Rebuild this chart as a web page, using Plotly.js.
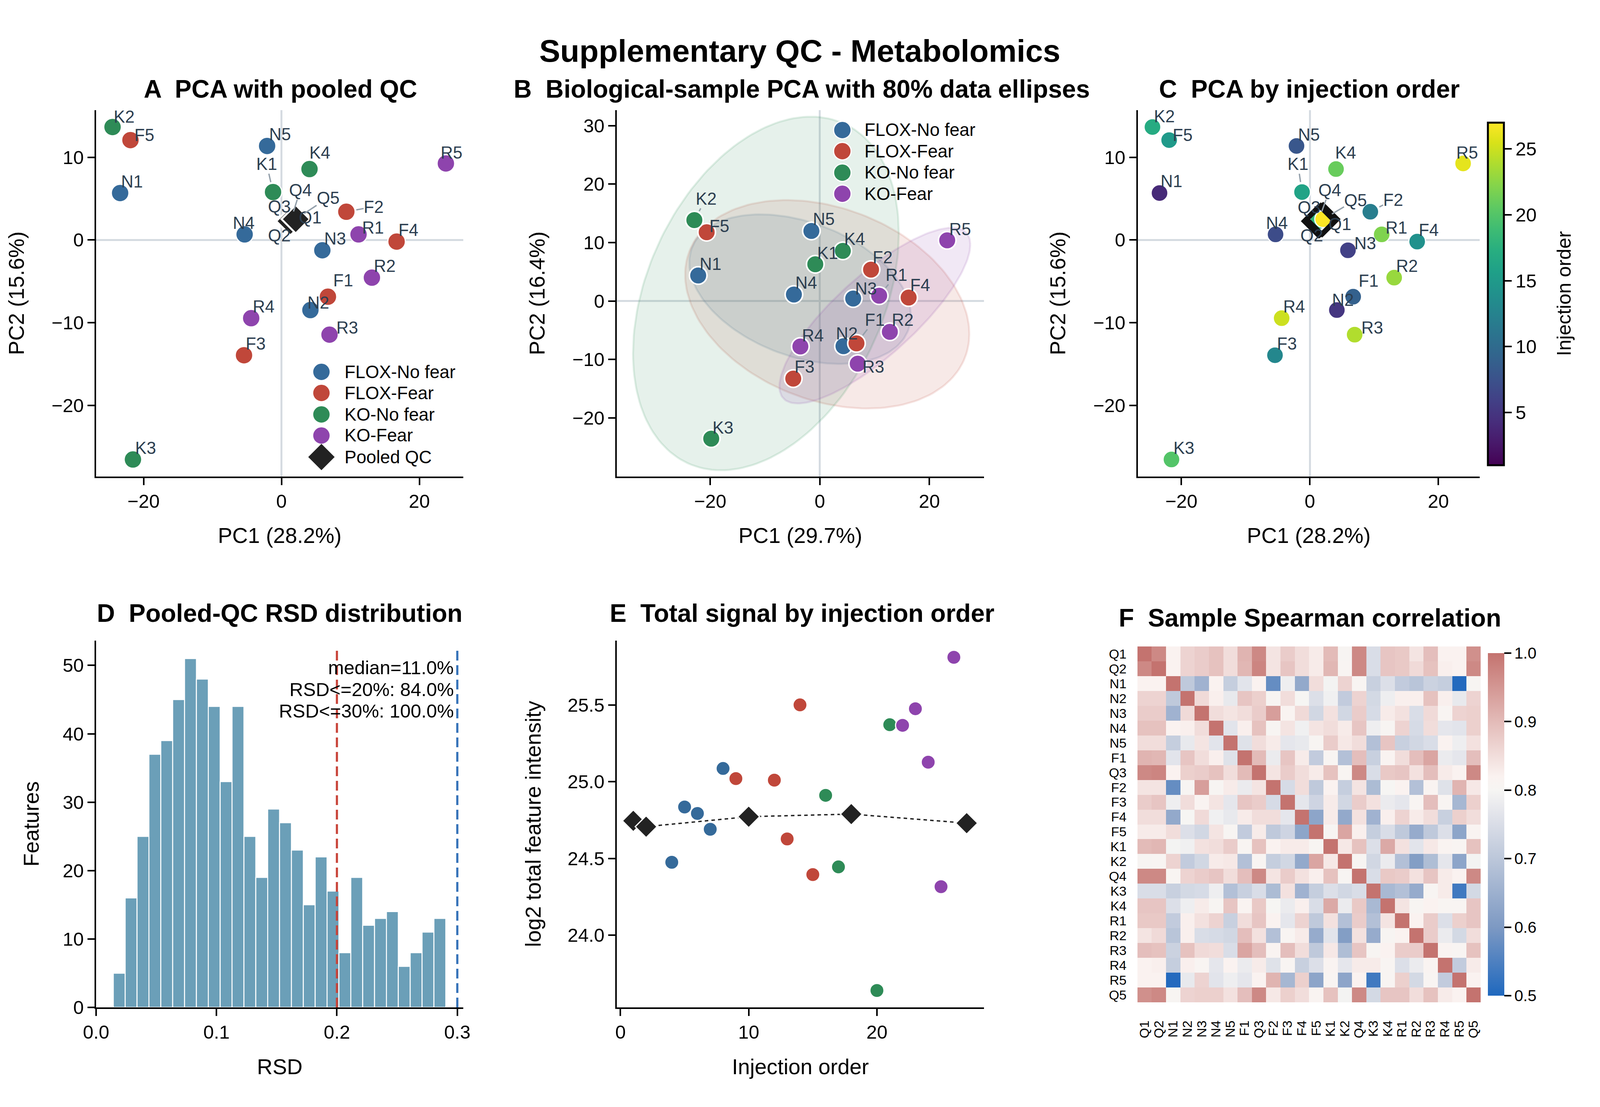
<!DOCTYPE html>
<html><head><meta charset="utf-8">
<script src="https://cdn.plot.ly/plotly-3.0.1.min.js"></script>
<style>html,body{margin:0;padding:0;background:#fff;overflow:hidden}#chart{height:2834px}</style>
</head><body><div id="chart"></div>
<script>
// ---------- DATA ----------
const sampleLabels = ['N1','N2','N3','N4','N5','F1','F2','F3','F4','F5','K1','K2','K3','K4','R1','R2','R3','R4','R5'];
const pc1All = [-23.4,4.2,5.93,-5.34,-2.08,6.74,9.41,-5.43,16.7,-21.9,-1.22,-24.5,-21.54,4.07,11.18,13.12,6.97,-4.39,23.85];
const pc2All = [5.68,-8.47,-1.24,0.68,11.37,-6.85,3.42,-13.93,-0.19,12.08,5.8,13.66,-26.53,8.58,0.68,-4.55,-11.44,-9.45,9.26];
const pc1Bio = [-22.2,4.32,6.09,-4.73,-1.54,6.69,9.35,-4.85,16.21,-20.65,-0.83,-22.9,-19.82,4.2,10.83,12.78,6.92,-3.55,23.25];
const pc2Bio = [4.37,-7.73,0.43,1.12,11.99,-7.25,5.38,-13.27,0.59,11.77,6.29,13.85,-23.55,8.58,0.91,-5.27,-10.71,-7.78,10.39];
const injectionOrder = [4,5,6,7,8,9,12,13,14,15,16,17,20,21,22,23,24,25,26];
const totalSignal = [24.475,24.835,24.793,24.69,25.086,25.02,25.01,24.627,25.5,24.395,24.911,24.445,23.64,25.371,25.367,25.475,25.127,24.316,25.81];
const qcLabels = ['Q1','Q2','Q3','Q4','Q5'];
const qcPc1 = [1.9,1.5,1.7,1.31,2.07];
const qcPc2 = [2.4,2.3,2.45,2.28,2.52];
const qcOrder = [1,2,10,18,27];
const qcSignal = [24.745,24.707,24.772,24.789,24.73];
const groupNames = ['FLOX-No fear','FLOX-Fear','KO-No fear','KO-Fear'];
const groupPrefixes = ['N','F','K','R'];
const groupColors = ['#356A9A','#C0473A','#2E8B57','#8E44AD'];
const rsdBinStart = 0.01426;
const rsdBinWidth = 0.009864;
const rsdCounts = [5,16,25,37,39,45,51,48,44,33,44,25,19,29,27,23,15,22,17,8,19,12,13,14,6,8,11,13];
const rsdNotes = ['median=11.0%','RSD&lt;=20%: 84.0%','RSD&lt;=30%: 100.0%'];
const corrLabels = ['Q1','Q2','N1','N2','N3','N4','N5','F1','Q3','F2','F3','F4','F5','K1','K2','Q4','K3','K4','R1','R2','R3','R4','R5','Q5'];
const corrUpper = [
[1,.97,.82,.865,.875,.89,.85,.91,.97,.84,.875,.85,.83,.90,.805,.97,.75,.885,.88,.84,.895,.82,.82,.96],
[1,.82,.865,.875,.89,.85,.905,.975,.84,.885,.85,.83,.905,.81,.97,.75,.885,.88,.855,.89,.825,.82,.97],
[1,.705,.655,.82,.715,.765,.82,.575,.785,.635,.85,.795,.865,.81,.72,.755,.71,.695,.725,.715,.505,.805],
[1,.855,.825,.775,.885,.87,.805,.85,.80,.755,.79,.71,.865,.74,.785,.825,.825,.89,.825,.775,.865],
[1,.85,.84,.85,.875,.94,.815,.855,.735,.845,.735,.875,.745,.83,.845,.75,.855,.81,.865,.87],
[1,.765,.825,.89,.805,.84,.79,.84,.85,.83,.885,.785,.805,.865,.745,.85,.77,.765,.87],
[1,.76,.85,.83,.77,.775,.805,.875,.835,.85,.685,.885,.72,.735,.75,.82,.785,.845],
[1,.90,.78,.885,.83,.71,.81,.685,.895,.72,.815,.85,.895,.93,.78,.77,.895],
[1,.84,.875,.85,.83,.89,.81,.97,.75,.88,.885,.845,.895,.83,.82,.97],
[1,.745,.85,.705,.82,.715,.84,.675,.80,.82,.685,.815,.76,.91,.835],
[1,.77,.73,.83,.735,.875,.845,.78,.77,.81,.895,.81,.665,.87],
[1,.625,.83,.635,.845,.655,.825,.865,.83,.85,.72,.87,.85],
[1,.805,.93,.825,.715,.75,.705,.64,.705,.755,.625,.815],
[1,.835,.89,.755,.925,.845,.765,.835,.815,.81,.89],
[1,.805,.735,.78,.685,.61,.68,.77,.625,.795],
[1,.75,.88,.875,.845,.885,.83,.82,.97],
[1,.67,.685,.64,.805,.83,.535,.74],
[1,.84,.805,.82,.81,.81,.885],
[1,.82,.875,.755,.87,.885],
[1,.875,.78,.74,.85],
[1,.815,.81,.89],
[1,.71,.83],
[1,.82],
[1]];
const corrColorscale = [[0,'#1F68BE'],[0.2,'#7D99C3'],[0.4,'#BCC7DA'],[0.54,'#E5E6EC'],[0.6,'#F6F5F3'],[0.64,'#FAF2F0'],[0.8,'#E3BBB8'],[1,'#C4736F']];

// ---------- LABEL OFFSETS (reference pixels from point to label centre) ----------
const labelOffsetA = {K2:[31,-27],F5:[37,-13],N5:[34,-30],K4:[27,-42],R5:[15,-28],N1:[32,-30],K1:[-17,-72],F2:[73,-13],N4:[-2,-30],R1:[39,-18],F4:[31,-30],N3:[34,-30],R2:[34,-30],F1:[41,-42],N2:[21,-19],R4:[33,-30],R3:[47,-18],F3:[31,-30],K3:[33,-30],Q1:[41,-7],Q2:[-33,37],Q3:[-37,-34],Q4:[26,-80],Q5:[86,-55]};
const labelOffsetB = {K2:[31,-55],F5:[34,-16],N5:[33,-31],K4:[31,-31],K1:[33,-29],N1:[33,-30],F2:[31,-32],R5:[34,-29],N4:[33,-30],N3:[34,-26],R1:[46,-54],F4:[31,-32],R2:[34,-31],F1:[49,-61],N2:[9,-33],R4:[33,-29],R3:[42,8],F3:[30,-31],K3:[31,-29]};
const labelOffsetC = {K2:[31,-28],F5:[36,-13],N5:[33,-29],K4:[25,-42],R5:[11,-28],N1:[32,-31],K1:[-11,-72],F2:[61,-31],N4:[4,-30],R1:[39,-18],F4:[31,-30],N3:[46,-18],R2:[34,-30],F1:[41,-41],N2:[16,-26],R4:[33,-30],R3:[47,-18],F3:[32,-30],K3:[33,-30],Q1:[47,10],Q2:[-21,37],Q3:[-31,-32],Q4:[30,-80],Q5:[86,-49]};
const leadersA = ['K1','F2','Q4','Q5'];
const leadersB = ['K2','R1','F1'];
const leadersC = ['K1','F2','Q4','Q5'];

// ---------- HELPERS ----------
// Positions below are in the reference's 4251-wide pixel frame. The chart is drawn
// at the real window width so nothing is clipped when the window is narrower.
const REF_W = 4251, H = 2834;
const plotW = Math.min(window.innerWidth || REF_W, REF_W);
const SX = plotW / REF_W;
const FS = 1 - (1 - SX) * 0.8;
document.getElementById('chart').style.width = plotW + 'px';
const FONT = '"Liberation Sans", Arial, sans-serif';
const TICK = 50*FS, AXT = 57*FS, LAB = 45*FS, LEG = 47*FS, PT = 66*FS, SPINE = 4;
const DARK = '#222222', SLATE = '#2C3E50', ZERO = '#D5DBE1', LEAD = '#94A0AB';

const panels = {
  A:{l:255.4,r:1231,t:282,b:1219.5, xr:[-26.88,26.38], yr:[-28.57,15.7]},
  B:{l:1639,r:2614,t:282,b:1219.5, xr:[-37.04,29.94], yr:[-30.0,32.66]},
  C:{l:3023,r:3931.5,t:282,b:1219.5, xr:[-26.78,26.44], yr:[-28.57,15.7]},
  D:{l:255.4,r:1231,t:1639.5,b:2579, xr:[0,0.305], yr:[0,53.65]},
  E:{l:1639,r:2614,t:1639.5,b:2579, xr:[-0.28,28.34], yr:[23.53,25.92]},
  F:{l:3022,r:3934,t:1655,b:2566}
};
const axisNo = {A:1,B:2,C:3,D:4,E:5,F:6};
function pxToData(p, px, py){
  return [p.xr[0] + (px-p.l)/(p.r-p.l)*(p.xr[1]-p.xr[0]),
          p.yr[0] + (p.b-py)/(p.b-p.t)*(p.yr[1]-p.yr[0])];
}
function groupIdx(prefix){ return sampleLabels.map((s,i)=>s[0]===prefix?i:-1).filter(i=>i>=0); }
function axes(key, xtitle, ytitle, extraX, extraY, ystand){
  const p = panels[key], n = axisNo[key];
  const base = {
    showgrid:false, showline:true, linecolor:'#000', linewidth:SPINE, ticks:'outside', ticklen:18, tickwidth:4, tickcolor:'#000',
    tickfont:{family:FONT,size:TICK,color:'#000'}, zeroline:false, fixedrange:true
  };
  layout['xaxis'+n] = Object.assign({}, base, {domain:[p.l/REF_W,p.r/REF_W], range:p.xr, anchor:'y'+n,
    title:{text:xtitle,font:{family:FONT,size:AXT,color:'#000'},standoff:44}}, extraX||{});
  layout['yaxis'+n] = Object.assign({}, base, {domain:[1-p.b/H,1-p.t/H], range:p.yr, anchor:'x'+n,
    title:{text:ytitle,font:{family:FONT,size:AXT,color:'#000'},standoff:ystand*SX}}, extraY||{});
}
const ZL = {zeroline:true, zerolinecolor:ZERO, zerolinewidth:5};
const PCX = Object.assign({tickvals:[-20,0,20]},ZL);
const PCY = Object.assign({tickvals:[-20,-10,0,10]},ZL);
function panelTitle(text, cx, cy){
  annotations.push({xref:'paper',yref:'paper',x:cx/REF_W,y:1-cy/H,xanchor:'center',yanchor:'middle',showarrow:false,
    text:'<b>'+text+'</b>',font:{family:FONT,size:PT,color:'#000'}});
}
function pointLabels(n, names, xs, ys, offsets, leaders){
  names.forEach((nm,i)=>{
    const lead = leaders.includes(nm), o = offsets[nm];
    annotations.push({xref:'x'+n,yref:'y'+n,x:xs[i],y:ys[i],ax:o[0]*SX,ay:o[1],text:nm,
      font:{family:FONT,size:LAB,color:SLATE},showarrow:true,arrowhead:0,
      arrowwidth:lead?3.5:0.1,arrowcolor:lead?LEAD:'rgba(0,0,0,0)',standoff:lead?26:0,borderpad:0});
  });
}
function legendBlock(key, names, colors, symbols, cx, txtx, rows){
  const p = panels[key], n = axisNo[key];
  names.forEach((nm,i)=>{
    const d = pxToData(p, cx, rows[i]);
    const dia = symbols[i]==='diamond';
    traces.push({type:'scatter',mode:'markers',x:[d[0]],y:[d[1]],xaxis:'x'+n,yaxis:'y'+n,showlegend:false,cliponaxis:false,
      marker:{color:colors[i],symbol:symbols[i],size:dia?52:45,line:{color:'#fff',width:dia?0:3}}});
    annotations.push({xref:'paper',yref:'paper',x:txtx/REF_W,y:1-rows[i]/H,xanchor:'left',yanchor:'middle',showarrow:false,
      text:nm,font:{family:FONT,size:LEG,color:'#000'}});
  });
}
function ellipseXY(xs, ys){
  const m = a=>a.reduce((s,v)=>s+v,0)/a.length;
  const mx=m(xs), my=m(ys), k=xs.length-1;
  let a=0,b=0,c=0;
  xs.forEach((x,i)=>{a+=(x-mx)*(x-mx);b+=(x-mx)*(ys[i]-my);c+=(ys[i]-my)*(ys[i]-my);});
  a/=k;b/=k;c/=k;
  const chi80 = Math.sqrt(3.2189);
  const l11=Math.sqrt(a), l21=b/l11, l22=Math.sqrt(Math.max(c-l21*l21,0));
  const ex=[],ey=[];
  for(let t=0;t<=180;t++){
    const u=Math.cos(t*Math.PI/90), v=Math.sin(t*Math.PI/90);
    ex.push(mx+chi80*l11*u); ey.push(my+chi80*(l21*u+l22*v));
  }
  return [ex,ey];
}
function rgba(hex,al){
  const v=parseInt(hex.slice(1),16);
  return 'rgba('+(v>>16&255)+','+(v>>8&255)+','+(v&255)+','+al+')';
}

// ---------- BUILD ----------
const traces = [], annotations = [], shapes = [];
const layout = {width:plotW,height:H,margin:{l:0,r:0,t:0,b:0,pad:0},paper_bgcolor:'#fff',plot_bgcolor:'#fff',showlegend:false,
  font:{family:FONT},
  title:{text:'<b>Supplementary QC - Metabolomics</b>',font:{family:FONT,size:83*FS,color:'#000'},x:2125/REF_W,y:1-130/H,xanchor:'center',yanchor:'middle',xref:'paper',yref:'paper'},
  annotations, shapes};

// Panel A
axes('A','PC1 (28.2%)','PC2 (15.6%)',PCX,PCY,56);
groupPrefixes.forEach((pre,g)=>{
  const idx = groupIdx(pre);
  traces.push({type:'scatter',mode:'markers',name:groupNames[g],xaxis:'x1',yaxis:'y1',
    x:idx.map(i=>pc1All[i]),y:idx.map(i=>pc2All[i]),
    marker:{color:groupColors[g],size:45,line:{color:'#fff',width:3}}});
});
traces.push({type:'scatter',mode:'markers',name:'Pooled QC',xaxis:'x1',yaxis:'y1',x:qcPc1,y:qcPc2,
  marker:{color:DARK,symbol:'diamond',size:56,line:{color:'#fff',width:5}}});
pointLabels(1,sampleLabels,pc1All,pc2All,labelOffsetA,leadersA);
pointLabels(1,qcLabels,qcPc1,qcPc2,labelOffsetA,leadersA);
legendBlock('A',groupNames.concat(['Pooled QC']),groupColors.concat([DARK]),['circle','circle','circle','circle','diamond'],854,913,[952,1006,1061,1115,1170]);
panelTitle('A  PCA with pooled QC',745,228);

// Panel B
axes('B','PC1 (29.7%)','PC2 (16.4%)',{tickvals:[-20,0,20],zeroline:true,zerolinecolor:ZERO,zerolinewidth:5},{tickvals:[-20,-10,0,10,20,30],zeroline:true,zerolinecolor:ZERO,zerolinewidth:5},56);
groupPrefixes.forEach((pre,g)=>{
  const idx = groupIdx(pre);
  const e = ellipseXY(idx.map(i=>pc1Bio[i]),idx.map(i=>pc2Bio[i]));
  traces.push({type:'scatter',mode:'lines',fill:'toself',fillcolor:rgba(groupColors[g],0.12),xaxis:'x2',yaxis:'y2',
    x:e[0],y:e[1],line:{color:rgba(groupColors[g],0.14),width:5},hoverinfo:'skip'});
});
groupPrefixes.forEach((pre,g)=>{
  const idx = groupIdx(pre);
  traces.push({type:'scatter',mode:'markers',name:groupNames[g],xaxis:'x2',yaxis:'y2',
    x:idx.map(i=>pc1Bio[i]),y:idx.map(i=>pc2Bio[i]),
    marker:{color:groupColors[g],size:45,line:{color:'#fff',width:4}}});
});
pointLabels(2,sampleLabels,pc1Bio,pc2Bio,labelOffsetB,leadersB);
legendBlock('B',groupNames,groupColors,['circle','circle','circle','circle'],2238,2295,[333,387,442,496]);
panelTitle('B  Biological-sample PCA with 80% data ellipses',2130,228);

// Panel C
axes('C','PC1 (28.2%)','PC2 (15.6%)',PCX,PCY,56);
traces.push({type:'scatter',mode:'markers',xaxis:'x3',yaxis:'y3',
  x:pc1All.concat(qcPc1),y:pc2All.concat(qcPc2),
  marker:{color:injectionOrder.concat(qcOrder),cmin:1,cmax:27,colorscale:'Viridis',size:43,line:{color:'#fff',width:3},
    colorbar:{x:3953.5/REF_W,xanchor:'left',xpad:0,y:1-1191/H,yanchor:'bottom',ypad:0,lenmode:'pixels',len:877,thicknessmode:'pixels',thickness:43*SX,
      outlinecolor:'#000',outlinewidth:5,ticks:'outside',ticklen:18,tickwidth:4,tickcolor:'#000',tickvals:[5,10,15,20,25],
      tickprefix:'\u00A0\u00A0',tickfont:{family:FONT,size:TICK,color:'#000'}}}});
traces.push({type:'scatter',mode:'markers',name:'Pooled QC',xaxis:'x3',yaxis:'y3',x:qcPc1,y:qcPc2,
  marker:{color:'rgba(0,0,0,0)',symbol:'diamond',size:60,line:{color:'#111',width:8}}});
pointLabels(3,sampleLabels,pc1All,pc2All,labelOffsetC,leadersC);
pointLabels(3,qcLabels,qcPc1,qcPc2,labelOffsetC,leadersC);
annotations.push({xref:'paper',yref:'paper',x:4154/REF_W,y:1-752/H,xanchor:'center',yanchor:'middle',showarrow:false,textangle:-90,
  text:'Injection order',font:{family:FONT,size:52*FS,color:'#000'}});
panelTitle('C  PCA by injection order',3479,228);

// Panel D
axes('D','RSD','Features',{tickvals:[0,0.1,0.2,0.3],ticktext:['0.0','0.1','0.2','0.3']},{tickvals:[0,10,20,30,40,50]},46);
traces.push({type:'bar',xaxis:'x4',yaxis:'y4',x:rsdCounts.map((_,i)=>rsdBinStart+(i+0.5)*rsdBinWidth),y:rsdCounts,width:rsdBinWidth,
  marker:{color:'#6B9FB8',line:{color:'#fff',width:2.5}}});
shapes.push({type:'line',xref:'x4',yref:'y4',x0:0.2,x1:0.2,y0:0,y1:52.8,line:{color:'#C8443A',width:5.5,dash:'25px,12px'}});
shapes.push({type:'line',xref:'x4',yref:'y4',x0:0.3,x1:0.3,y0:0,y1:52.8,line:{color:'#3572B8',width:5.5,dash:'25px,12px'}});
[1709,1765,1820].forEach((py,i)=>annotations.push({xref:'paper',yref:'paper',x:1208/REF_W,y:1-py/H,xanchor:'right',yanchor:'middle',showarrow:false,
  text:rsdNotes[i],font:{family:FONT,size:TICK,color:'#000'}}));
panelTitle('D  Pooled-QC RSD distribution',743,1570);

// Panel E
axes('E','Injection order','log2 total feature intensity',{tickvals:[0,10,20]},{tickvals:[24,24.5,25,25.5],ticktext:['24.0','24.5','25.0','25.5']},54);
traces.push({type:'scatter',mode:'lines',xaxis:'x5',yaxis:'y5',x:qcOrder,y:qcSignal,line:{color:DARK,width:3.5,dash:'9px,8px'}});
groupPrefixes.forEach((pre,g)=>{
  const idx = groupIdx(pre);
  traces.push({type:'scatter',mode:'markers',name:groupNames[g],xaxis:'x5',yaxis:'y5',
    x:idx.map(i=>injectionOrder[i]),y:idx.map(i=>totalSignal[i]),
    marker:{color:groupColors[g],size:36,line:{color:'#fff',width:3}}});
});
traces.push({type:'scatter',mode:'markers',name:'Pooled QC',xaxis:'x5',yaxis:'y5',x:qcOrder,y:qcSignal,
  marker:{color:DARK,symbol:'diamond',size:43,line:{color:'#fff',width:3}}});
panelTitle('E  Total signal by injection order',2131,1570);

// Panel F
const nC = corrLabels.length;
const corrMatrix = corrLabels.map(()=>new Array(nC).fill(null));
corrUpper.forEach((row,i)=>row.forEach((v,k)=>{corrMatrix[i][i+k]=v;corrMatrix[i+k][i]=v;}));
traces.push({type:'heatmap',xaxis:'x6',yaxis:'y6',x:corrLabels,y:corrLabels,z:corrMatrix,zmin:0.5,zmax:1,colorscale:corrColorscale,xgap:0,ygap:0,
  colorbar:{x:3953/REF_W,xanchor:'left',xpad:0,y:1-2549/H,yanchor:'bottom',ypad:0,lenmode:'pixels',len:877,thicknessmode:'pixels',thickness:44*SX,
    outlinewidth:0,ticks:'outside',ticklen:18,tickwidth:4,tickcolor:'#000',tickvals:[0.5,0.6,0.7,0.8,0.9,1.0],ticktext:['0.5','0.6','0.7','0.8','0.9','1.0'],
    tickprefix:'\u00A0\u00A0\u00A0',tickfont:{family:FONT,size:42*FS,color:'#000'}}});
const pF = panels.F;
layout.xaxis6 = {domain:[pF.l/REF_W,pF.r/REF_W],anchor:'y6',type:'category',tickmode:'array',tickvals:corrLabels,ticktext:corrLabels,tickangle:-90,
  tickfont:{family:FONT,size:35*FS,color:'#000'},showline:false,showgrid:false,zeroline:false,ticks:'outside',ticklen:32,tickcolor:'rgba(0,0,0,0)',fixedrange:true};
layout.yaxis6 = {domain:[1-pF.b/H,1-pF.t/H],anchor:'x6',type:'category',autorange:'reversed',tickmode:'array',tickvals:corrLabels,ticktext:corrLabels,
  tickfont:{family:FONT,size:35*FS,color:'#000'},showline:false,showgrid:false,zeroline:false,ticks:'outside',ticklen:20,tickcolor:'rgba(0,0,0,0)',fixedrange:true};
panelTitle('F  Sample Spearman correlation',3480,1582);

traces.forEach(t=>{ if(t.showlegend===undefined) t.showlegend=false; });
Plotly.newPlot('chart',traces,layout,{displayModeBar:false,responsive:false});
</script></body></html>
